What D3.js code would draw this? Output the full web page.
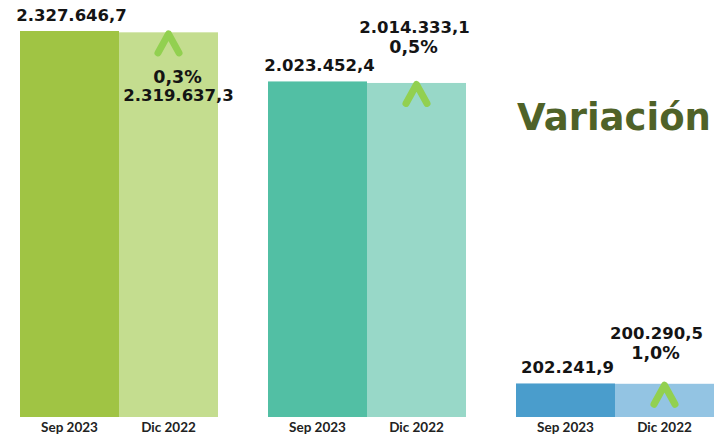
<!DOCTYPE html>
<html>
<head>
<meta charset="utf-8">
<script src="https://cdn.jsdelivr.net/npm/d3@7"></script>
<style>
  body { margin: 0; background: #fff; }
  svg { display: block; }
</style>
</head>
<body>
<script>
// Data
var groups = ["g1", "g2", "g3"];
var periods = ["Sep 2023", "Dic 2022"];
var sepValues = [2327646.7, 2023452.4, 202241.9];
var dicValues = [2319637.3, 2014333.1, 200290.5];
var variation = [0.3, 0.5, 1.0];

// colours per group: [Sep, Dic]
var colors = [["#a0c444", "#c4dd8f"], ["#52bfa4", "#98d8c8"], ["#4a9dcc", "#93c4e3"]];
// where the Dic labels sit relative to the Dic bar (dx, value dy, pct dy)
var dicLabelLayout = [[10, 69, 51], [-2, -50, -30], [-8, -45, -25]];

var w = 724, h = 435;

var svg = d3.select("body").append("svg")
  .attr("width", w)
  .attr("height", h);

var locale = d3.formatLocale({decimal: ",", thousands: ".", grouping: [3], currency: ["", ""]});
var fmt = locale.format(",.1f");
var fmtPct = function (v) { return locale.format(".1f")(v) + "%"; };

var x0 = d3.scaleBand().domain(groups).range([20, 714]).paddingInner(50 / 248);
var x1 = d3.scaleBand().domain(periods).range([0, x0.bandwidth()]);
var y = d3.scaleLinear().domain([0, d3.max(sepValues)]).range([417, 31]);

var labelFont = "'DejaVu Sans', Verdana, sans-serif";

function label(sel, xp, yp, size, txt) {
  sel.append("text")
    .attr("x", xp)
    .attr("y", yp)
    .attr("text-anchor", "middle")
    .style("font-family", labelFont)
    .style("font-weight", "bold")
    .style("font-size", size + "px")
    .style("fill", "#141414")
    .text(txt);
}

var g = svg.selectAll(".group")
  .data(groups)
  .enter().append("g")
  .attr("class", "group")
  .attr("transform", function (d) { return "translate(" + x0(d) + ",0)"; });

g.each(function (d, i) {
  var sel = d3.select(this);
  var vals = [sepValues[i], dicValues[i]];

  // bars
  sel.selectAll("rect")
    .data(periods)
    .enter().append("rect")
    .attr("x", function (p) { return x1(p); })
    .attr("y", function (p, j) { return y(vals[j]); })
    .attr("width", x1.bandwidth())
    .attr("height", function (p, j) { return y(0) - y(vals[j]); })
    .attr("fill", function (p, j) { return colors[i][j]; });

  // Sep value label
  label(sel, x1("Sep 2023") + x1.bandwidth() / 2 + 2, y(vals[0]) - 10, 16.5, fmt(vals[0]));

  // Dic value + variation labels
  var cx = x1("Dic 2022") + x1.bandwidth() / 2;
  var lay = dicLabelLayout[i];
  label(sel, cx + lay[0], y(vals[1]) + lay[1], 16.5, fmt(vals[1]));
  label(sel, cx + lay[0] - 1, y(vals[1]) + lay[2], 17.5, fmtPct(variation[i]));

  // up arrow (chevron) on the Dic bar
  var top = y(vals[1]);
  sel.append("path")
    .attr("d", "M" + (cx - 10.5) + "," + (top + 20.5) + "L" + cx + "," + (top + 1.5) + "L" + (cx + 10.5) + "," + (top + 20.5))
    .attr("fill", "none")
    .attr("stroke", "#92d050")
    .attr("stroke-width", 7)
    .attr("stroke-linecap", "round")
    .attr("stroke-linejoin", "round");

  // axis labels
  sel.selectAll(".xlab")
    .data(periods)
    .enter().append("text")
    .attr("class", "xlab")
    .attr("x", function (p) { return x1(p) + x1.bandwidth() / 2; })
    .attr("y", 432)
    .attr("text-anchor", "middle")
    .style("font-family", "Lato, 'Open Sans', sans-serif")
    .style("font-weight", "bold")
    .style("font-size", "13.5px")
    .style("fill", "#222")
    .text(function (p) { return p; });
});

// title
svg.append("text")
  .attr("x", 614)
  .attr("y", 130)
  .attr("text-anchor", "middle")
  .style("font-family", labelFont)
  .style("font-weight", "bold")
  .style("font-size", "37px")
  .style("fill", "#4f6228")
  .text("Variación");
</script>
</body>
</html>
